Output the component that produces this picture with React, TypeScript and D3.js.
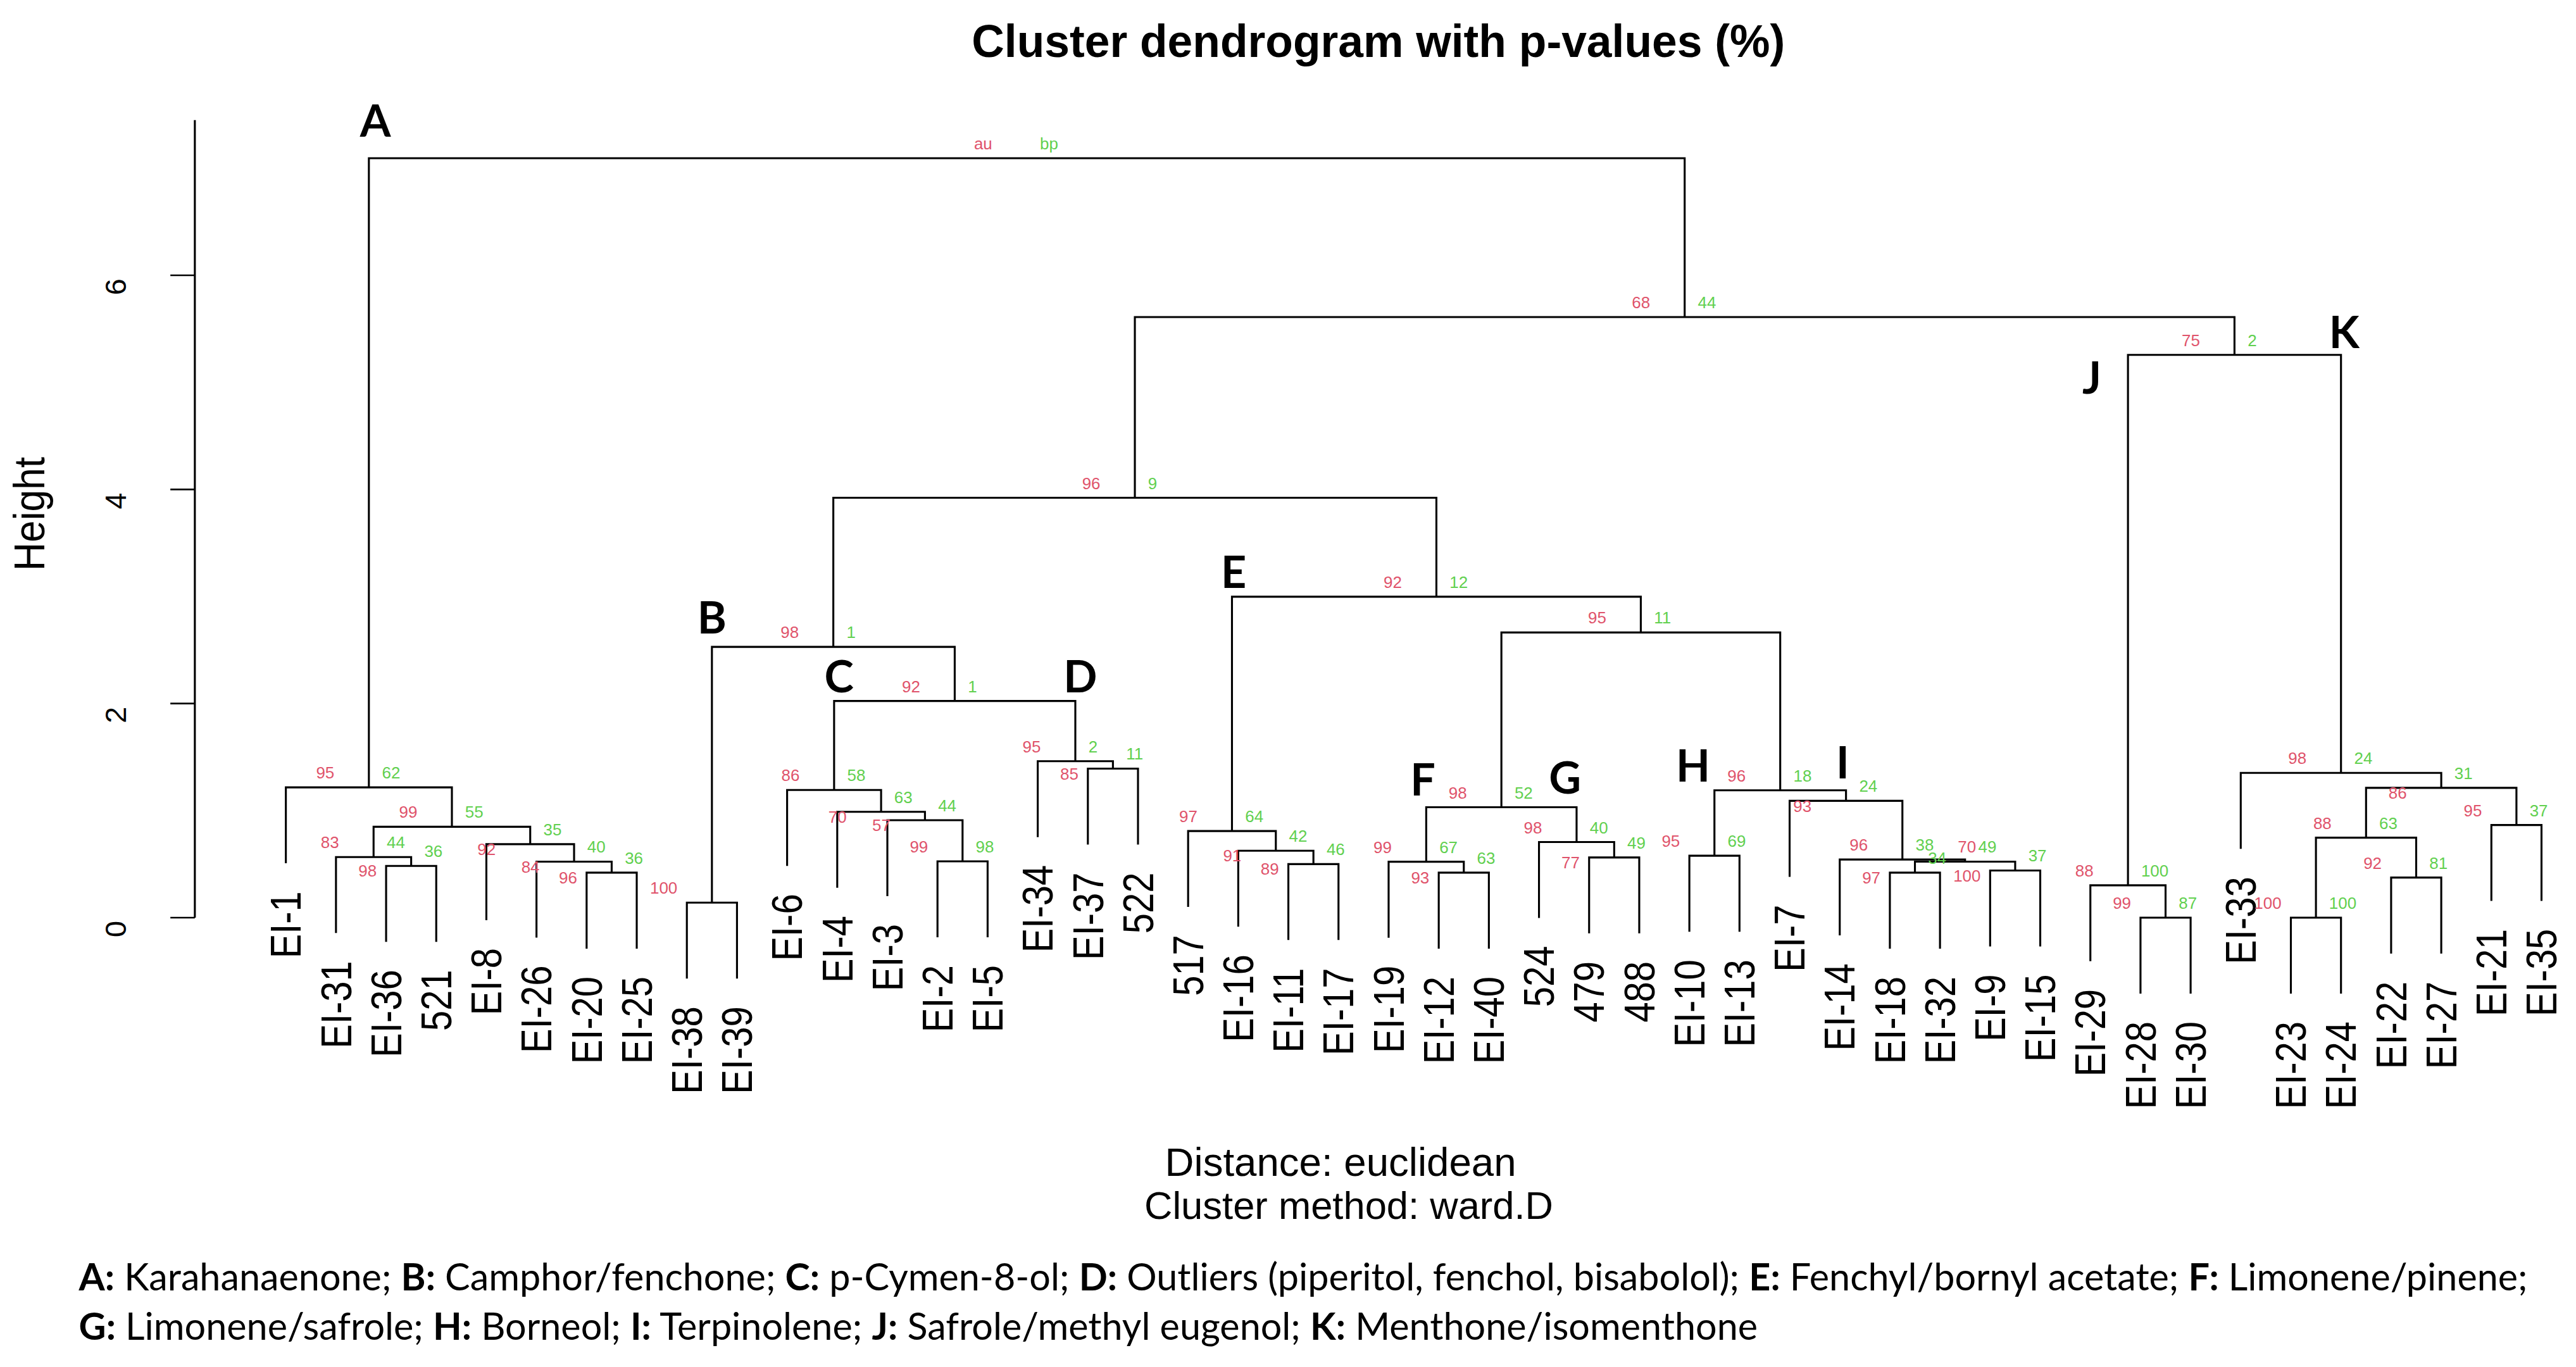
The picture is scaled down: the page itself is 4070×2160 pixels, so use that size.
import React from 'react';
import * as d3 from 'd3';

const leafNames = ['EI-1','EI-31','EI-36','521','EI-8','EI-26','EI-20','EI-25','EI-38','EI-39','EI-6','EI-4','EI-3','EI-2','EI-5','EI-34','EI-37','522','517','EI-16','EI-11','EI-17','EI-19','EI-12','EI-40','524','479','488','EI-10','EI-13','EI-7','EI-14','EI-18','EI-32','EI-9','EI-15','EI-29','EI-28','EI-30','EI-33','EI-23','EI-24','EI-22','EI-27','EI-21','EI-35'];

// [node id, left child, right child]
const merges: [string, string, string][] = [
  ['a6','EI-20','EI-25'],['a5','EI-26','a6'],['a4','EI-8','a5'],['a3','EI-36','521'],['a2','EI-31','a3'],['a1','a2','a4'],['A','EI-1','a1'],
  ['b1','EI-38','EI-39'],
  ['c4','EI-2','EI-5'],['c3','EI-3','c4'],['c2','EI-4','c3'],['C','EI-6','c2'],
  ['d1','EI-37','522'],['D','EI-34','d1'],['CD','C','D'],['B','b1','CD'],
  ['e3','EI-11','EI-17'],['e2','EI-16','e3'],['e1','517','e2'],
  ['f1','EI-12','EI-40'],['F','EI-19','f1'],
  ['g1','479','488'],['G','524','g1'],['FG','F','G'],
  ['H','EI-10','EI-13'],
  ['i4','EI-18','EI-32'],['i5','EI-9','EI-15'],['i3','i4','i5'],['i2','EI-14','i3'],['I','EI-7','i2'],
  ['HI','H','I'],['FGHI','FG','HI'],['E','e1','FGHI'],['BE','B','E'],
  ['j1','EI-28','EI-30'],['J','EI-29','j1'],
  ['k4','EI-23','EI-24'],['k5','EI-22','EI-27'],['k3','k4','k5'],['k6','EI-21','EI-35'],['k2','k3','k6'],['K','EI-33','k2'],
  ['JK','J','K'],['R','BE','JK'],['root','A','R'],
];

const mergeHeights = [
  0.42,0.523,0.686,0.483,0.566,0.849,1.217,
  0.14,
  0.526,0.91,0.988,1.192,
  1.392,1.461,2.024,2.529,
  0.5,0.625,0.809,
  0.42,0.522,
  0.562,0.706,1.031,
  0.578,
  0.42,0.44,0.523,0.543,1.091,
  1.189,2.664,2.998,3.922,
  0,0.302,
  0,0.374,0.747,0.865,1.212,1.352,
  5.257,5.61,7.094,
];

const auValues: (number | string | null)[] = [
  96,84,92,98,83,99,95,
  100,
  99,57,70,86,
  85,95,92,98,
  89,91,97,
  93,99,
  77,98,98,
  95,
  97,100,70,96,93,
  96,95,92,96,
  99,88,
  100,92,88,95,86,98,
  75,68,'au',
];

const bpValues: (number | string | null)[] = [
  36,40,35,36,44,55,62,
  null,
  98,44,63,58,
  11,2,1,1,
  46,42,64,
  63,67,
  49,40,52,
  69,
  34,37,49,38,24,
  18,11,12,9,
  87,100,
  100,81,63,37,31,24,
  2,44,'bp',
];

const yTicks = [0, 2, 4, 6];

const clusterLetters = ['A','B','C','D','E','F','G','H','I','J','K'];
const clusterNodeIds = ['A','b1','C','D','e1','F','G','H','I','J','K'];
const clusterDescriptions = [
  'Karahanaenone','Camphor/fenchone','p-Cymen-8-ol','Outliers (piperitol, fenchol, bisabolol)',
  'Fenchyl/bornyl acetate','Limonene/pinene','Limonene/safrole','Borneol','Terpinolene',
  'Safrole/methyl eugenol','Menthone/isomenthone',
];

const titleText = 'Cluster dendrogram with  p-values (%)';
const xLabLines = ['Distance: euclidean', 'Cluster method: ward.D'];
const yLabText = 'Height';

const RED = '#DF536B';
const GREEN = '#61D04F';
const SANS = '"Liberation Sans", Arial, Helvetica, sans-serif';
const HUMAN = 'Lato, "Open Sans", "Noto Sans", sans-serif';

const letterNudge: Record<string, [number, number]> = {
  A: [4, -8], B: [0, -3], C: [3, 0], D: [3, 0], E: [1, 0], F: [-2, -2], G: [-7, -3],
  H: [-13, 0], I: [-2, -2], J: [-22, 29], K: [2, 1],
};

export default function App() {
  const W = 1568;
  const H = 1568 * 2160 / 4070;

  const x = d3.scaleLinear().domain([0, leafNames.length - 1]).range([174, 1547]);
  const y = d3.scaleLinear().domain([0, 6]).range([558.6, 167.6]);
  const maxH = d3.max(mergeHeights) as number;
  const hang = 0.1 * maxH;
  const axisTop = 7.45;

  type P = { x: number; h: number; leaf: boolean };
  const pos = new Map<string, P>();
  leafNames.forEach((n, i) => pos.set(n, { x: x(i), h: 0, leaf: true }));
  const parentOf = new Map<string, string>();
  const nodes = merges.map(([id, l, r], i) => {
    const L = pos.get(l)!;
    const R = pos.get(r)!;
    const h = mergeHeights[i];
    const node = {
      id, l, r, xl: L.x, xr: R.x, cx: (L.x + R.x) / 2, h,
      hl: L.leaf ? h - hang : L.h, hr: R.leaf ? h - hang : R.h,
      au: auValues[i], bp: bpValues[i],
    };
    pos.set(id, { x: node.cx, h, leaf: false });
    parentOf.set(l, id);
    parentOf.set(r, id);
    return node;
  });
  const nodeById = new Map(nodes.map((n) => [n.id, n]));

  const segs = nodes.map((n) => ({ x1: n.xl, x2: n.xr, y: y(n.h) }));
  const pFs = 10;
  const charW = 0.556 * pFs;
  const auGap = 21;
  const bpGap = 8;

  type Lab = { t: string; x: number; y: number; anchor: string; color: string; left: number; right: number };
  const bpLabels: Lab[] = [];
  nodes.forEach((n) => {
    if (n.bp === null) return;
    const t = String(n.bp);
    const left = n.cx + bpGap;
    bpLabels.push({ t, x: left, y: y(n.h) - 9, anchor: 'start', color: GREEN, left, right: left + t.length * charW });
  });
  const auLabels: Lab[] = [];
  nodes.forEach((n) => {
    if (n.au === null) return;
    const ny = y(n.h);
    const t = String(n.au);
    const w = t.length * charW;
    let right = n.cx - auGap;
    let left = right - w;
    let ly = ny - 9;
    const hit = segs.some((s) => Math.abs(s.y - ly) < 5 && s.x2 > left && s.x1 < right);
    if (hit) ly = ny + 3;
    const clash = bpLabels.find((b) => Math.abs(b.y - ly) < 8 && b.right > left && b.left < right);
    if (clash) {
      left = clash.right + 7;
      right = left + w;
    }
    auLabels.push({ t, x: right, y: ly, anchor: 'end', color: RED, left, right });
  });
  const pLabels = [...auLabels, ...bpLabels];

  const leafFs = 22.3;

  return (
    <svg
      width={4070}
      height={2160}
      viewBox={`0 0 ${W} ${H}`}
      style={{ position: 'absolute', left: 0, top: 0, display: 'block' }}
    >
      <rect x={0} y={0} width={W} height={H} fill="#ffffff" />

      {/* title */}
      <text x={839} y={34.7} textAnchor="middle" fontFamily={SANS} fontWeight="bold" fontSize={27.5} fill="#000">
        {titleText}
      </text>

      {/* y axis */}
      <g>
        <line x1={118.6} x2={118.6} y1={y(0)} y2={y(axisTop)} stroke="#000" strokeWidth={1.2} />
        {yTicks.map((t) => (
          <g key={t}>
            <line x1={103.7} x2={118.6} y1={y(t)} y2={y(t)} stroke="#000" strokeWidth={1} />
            <text
              transform={`translate(${70.3},${y(t) + 7}) rotate(-90)`}
              textAnchor="middle"
              dy="0.36em"
              fontFamily={SANS}
              fontSize={18}
              fill="#000"
            >
              {t}
            </text>
          </g>
        ))}
        <text
          transform={`translate(${17.4},${312.8}) rotate(-90) scale(1,1.1)`}
          textAnchor="middle"
          dy="0.36em"
          fontFamily={SANS}
          fontSize={24}
          fill="#000"
        >
          {yLabText}
        </text>
      </g>

      {/* dendrogram */}
      <g fill="none" stroke="#000" strokeWidth={1.2}>
        {nodes.map((n) => (
          <path
            key={n.id}
            d={`M${n.xl},${y(n.hl)}V${y(n.h)}H${n.xr}V${y(n.hr)}`}
          />
        ))}
      </g>

      {/* leaf labels */}
      <g fontFamily={SANS} fontSize={leafFs} fill="#000">
        {leafNames.map((name, i) => {
          const par = nodeById.get(parentOf.get(name)!)!;
          const endY = y(par.h - hang) + 17;
          return (
            <text
              key={name}
              transform={`translate(${x(i)},${endY}) rotate(-90) scale(1,1.17)`}
              textAnchor="end"
              dy="0.35em"
            >
              {name}
            </text>
          );
        })}
      </g>

      {/* au / bp values */}
      <g fontFamily={SANS} fontSize={pFs}>
        {pLabels.map((p, i) => (
          <text key={i} x={p.x} y={p.y} dy="0.36em" textAnchor={p.anchor} fill={p.color}>
            {p.t}
          </text>
        ))}
      </g>

      {/* cluster letters */}
      <g fontFamily={HUMAN} fontWeight="bold" fontSize={27} fill="#000">
        {clusterLetters.map((L, i) => {
          const n = nodeById.get(clusterNodeIds[i])!;
          const par = nodeById.get(parentOf.get(n.id)!)!;
          const [dx, dy] = letterNudge[L] || [0, 0];
          return (
            <text key={L} x={n.cx + dx} y={y(par.h) - 15 + dy} dy="0.36em" textAnchor="middle">
              {L}
            </text>
          );
        })}
      </g>

      {/* x label / sub */}
      <g fontFamily={SANS} fill="#000" textAnchor="middle">
        <text x={816} y={716} fontSize={24.5}>{xLabLines[0]}</text>
        <text x={821} y={742} fontSize={23.7}>{xLabLines[1]}</text>
      </g>

      {/* footnote */}
      <g fontFamily={HUMAN} fontSize={22.85} fill="#000">
        {[clusterLetters.slice(0, 6), clusterLetters.slice(6)].map((group, li) => (
          <text key={li} x={48} y={li === 0 ? 785.5 : 815.5}>
            {group.map((L, j) => {
              const idx = clusterLetters.indexOf(L);
              const last = j === group.length - 1;
              const sep = last ? (li === 0 ? ';' : '') : '; ';
              return (
                <React.Fragment key={L}>
                  <tspan fontWeight="bold">{L + ':'}</tspan>
                  <tspan>{' ' + clusterDescriptions[idx] + sep}</tspan>
                </React.Fragment>
              );
            })}
          </text>
        ))}
      </g>
    </svg>
  );
}
